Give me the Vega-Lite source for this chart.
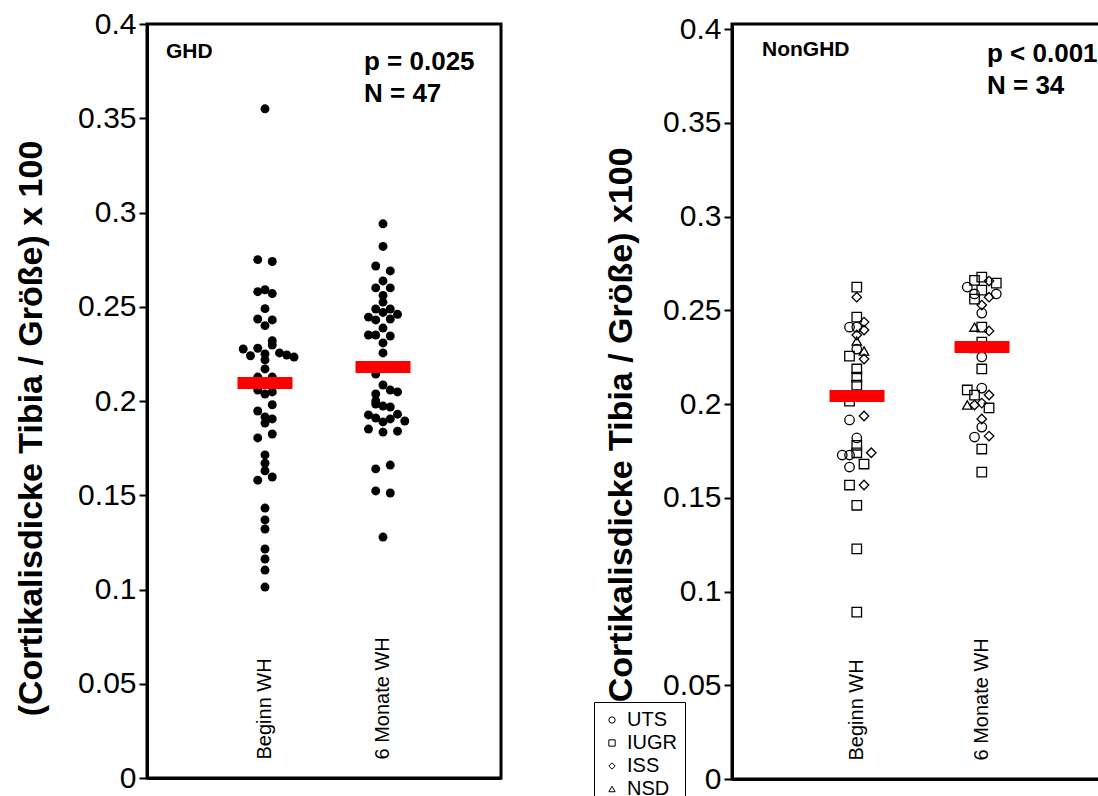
{
  "$schema": "https://vega.github.io/schema/vega-lite/v6.json",
  "background": "white",
  "padding": {"left": 12, "top": 7, "right": 0, "bottom": 0},
  "bounds": "flush",
  "spacing": 231,
  "config": {
    "font": "Liberation Sans",
    "view": {"stroke": "black", "strokeWidth": 3},
    "axis": {"labelFont": "Liberation Sans", "titleFont": "Liberation Sans", "labelColor": "black", "titleColor": "black", "domainColor": "black", "tickColor": "black", "grid": false},
    "axisY": {"labelFontSize": 30, "titleFontSize": 34, "titleFontWeight": "bold", "tickSize": 8, "tickWidth": 2, "domainWidth": 3, "labelPadding": 3, "titlePadding": 26, "format": ".2~f"},
    "axisX": {"ticks": false, "tickSize": 0, "labelAngle": -90, "labelAlign": "left", "labelBaseline": "middle", "labelPadding": -19, "labelFontSize": 20, "domainWidth": 3, "title": null}
  },
  "datasets": {
    "ghd": [
      {"t": "Beginn WH", "v": 0.355, "s": 0}, {"t": "Beginn WH", "v": 0.275, "s": -1}, {"t": "Beginn WH", "v": 0.274, "s": 1},
      {"t": "Beginn WH", "v": 0.258, "s": -1}, {"t": "Beginn WH", "v": 0.259, "s": 0}, {"t": "Beginn WH", "v": 0.257, "s": 1},
      {"t": "Beginn WH", "v": 0.249, "s": 0}, {"t": "Beginn WH", "v": 0.2435, "s": -1}, {"t": "Beginn WH", "v": 0.243, "s": 1},
      {"t": "Beginn WH", "v": 0.240, "s": 0}, {"t": "Beginn WH", "v": 0.232, "s": 1}, {"t": "Beginn WH", "v": 0.2276, "s": -3},
      {"t": "Beginn WH", "v": 0.228, "s": -1}, {"t": "Beginn WH", "v": 0.2297, "s": 1}, {"t": "Beginn WH", "v": 0.224, "s": -2},
      {"t": "Beginn WH", "v": 0.225, "s": 0}, {"t": "Beginn WH", "v": 0.2255, "s": 2}, {"t": "Beginn WH", "v": 0.2244, "s": 3},
      {"t": "Beginn WH", "v": 0.2233, "s": 4}, {"t": "Beginn WH", "v": 0.2218, "s": 0}, {"t": "Beginn WH", "v": 0.217, "s": 0},
      {"t": "Beginn WH", "v": 0.2127, "s": -1}, {"t": "Beginn WH", "v": 0.2127, "s": 1}, {"t": "Beginn WH", "v": 0.209, "s": -1},
      {"t": "Beginn WH", "v": 0.209, "s": 1}, {"t": "Beginn WH", "v": 0.2058, "s": -1}, {"t": "Beginn WH", "v": 0.2037, "s": 0},
      {"t": "Beginn WH", "v": 0.2048, "s": 1}, {"t": "Beginn WH", "v": 0.198, "s": 1}, {"t": "Beginn WH", "v": 0.1947, "s": -1},
      {"t": "Beginn WH", "v": 0.1915, "s": 0}, {"t": "Beginn WH", "v": 0.1905, "s": 1}, {"t": "Beginn WH", "v": 0.1883, "s": 0},
      {"t": "Beginn WH", "v": 0.1825, "s": 1}, {"t": "Beginn WH", "v": 0.1804, "s": -1}, {"t": "Beginn WH", "v": 0.1714, "s": 0},
      {"t": "Beginn WH", "v": 0.167, "s": 0}, {"t": "Beginn WH", "v": 0.163, "s": 0}, {"t": "Beginn WH", "v": 0.1597, "s": 1},
      {"t": "Beginn WH", "v": 0.158, "s": -1}, {"t": "Beginn WH", "v": 0.1432, "s": 0}, {"t": "Beginn WH", "v": 0.1369, "s": 0},
      {"t": "Beginn WH", "v": 0.1321, "s": 0}, {"t": "Beginn WH", "v": 0.1215, "s": 0}, {"t": "Beginn WH", "v": 0.1162, "s": 0},
      {"t": "Beginn WH", "v": 0.1103, "s": 0}, {"t": "Beginn WH", "v": 0.1013, "s": 0},
      {"t": "6 Monate WH", "v": 0.294, "s": 0}, {"t": "6 Monate WH", "v": 0.282, "s": 0}, {"t": "6 Monate WH", "v": 0.2716, "s": -1},
      {"t": "6 Monate WH", "v": 0.269, "s": 1}, {"t": "6 Monate WH", "v": 0.2637, "s": 0}, {"t": "6 Monate WH", "v": 0.26, "s": -1},
      {"t": "6 Monate WH", "v": 0.26, "s": 1}, {"t": "6 Monate WH", "v": 0.256, "s": 0}, {"t": "6 Monate WH", "v": 0.2525, "s": 0},
      {"t": "6 Monate WH", "v": 0.2488, "s": -1}, {"t": "6 Monate WH", "v": 0.2488, "s": 1}, {"t": "6 Monate WH", "v": 0.247, "s": 0},
      {"t": "6 Monate WH", "v": 0.246, "s": 2}, {"t": "6 Monate WH", "v": 0.2445, "s": -2}, {"t": "6 Monate WH", "v": 0.243, "s": -1},
      {"t": "6 Monate WH", "v": 0.2435, "s": 1}, {"t": "6 Monate WH", "v": 0.2387, "s": 0}, {"t": "6 Monate WH", "v": 0.235, "s": -2},
      {"t": "6 Monate WH", "v": 0.235, "s": -1}, {"t": "6 Monate WH", "v": 0.2345, "s": 1}, {"t": "6 Monate WH", "v": 0.2308, "s": 0},
      {"t": "6 Monate WH", "v": 0.2255, "s": 0}, {"t": "6 Monate WH", "v": 0.218, "s": -1}, {"t": "6 Monate WH", "v": 0.218, "s": 1},
      {"t": "6 Monate WH", "v": 0.2143, "s": -1}, {"t": "6 Monate WH", "v": 0.2085, "s": 0}, {"t": "6 Monate WH", "v": 0.2058, "s": 1},
      {"t": "6 Monate WH", "v": 0.2048, "s": 2}, {"t": "6 Monate WH", "v": 0.2037, "s": -1}, {"t": "6 Monate WH", "v": 0.2, "s": -1},
      {"t": "6 Monate WH", "v": 0.1984, "s": -1}, {"t": "6 Monate WH", "v": 0.1973, "s": 0}, {"t": "6 Monate WH", "v": 0.1968, "s": 1},
      {"t": "6 Monate WH", "v": 0.1926, "s": -2}, {"t": "6 Monate WH", "v": 0.193, "s": 2}, {"t": "6 Monate WH", "v": 0.191, "s": -1},
      {"t": "6 Monate WH", "v": 0.1889, "s": 0}, {"t": "6 Monate WH", "v": 0.1905, "s": 1}, {"t": "6 Monate WH", "v": 0.1894, "s": 3},
      {"t": "6 Monate WH", "v": 0.1851, "s": -2}, {"t": "6 Monate WH", "v": 0.1835, "s": 0}, {"t": "6 Monate WH", "v": 0.184, "s": 2},
      {"t": "6 Monate WH", "v": 0.164, "s": -1}, {"t": "6 Monate WH", "v": 0.166, "s": 1}, {"t": "6 Monate WH", "v": 0.1523, "s": -1},
      {"t": "6 Monate WH", "v": 0.1512, "s": 1}, {"t": "6 Monate WH", "v": 0.1278, "s": 0}
    ],
    "ghd_mean": [{"t": "Beginn WH", "v": 0.2095}, {"t": "6 Monate WH", "v": 0.218}],
    "nonghd": [
      {"t": "Beginn WH", "g": "IUGR", "v": 0.2624, "s": 0}, {"t": "Beginn WH", "g": "ISS", "v": 0.257, "s": 0},
      {"t": "Beginn WH", "g": "IUGR", "v": 0.2464, "s": 0}, {"t": "Beginn WH", "g": "ISS", "v": 0.2437, "s": 1},
      {"t": "Beginn WH", "g": "UTS", "v": 0.241, "s": -1}, {"t": "Beginn WH", "g": "UTS", "v": 0.241, "s": 0},
      {"t": "Beginn WH", "g": "ISS", "v": 0.2395, "s": 1}, {"t": "Beginn WH", "g": "ISS", "v": 0.2368, "s": 0},
      {"t": "Beginn WH", "g": "NSD", "v": 0.2336, "s": 0}, {"t": "Beginn WH", "g": "UTS", "v": 0.2293, "s": 0},
      {"t": "Beginn WH", "g": "NSD", "v": 0.2283, "s": 1}, {"t": "Beginn WH", "g": "IUGR", "v": 0.2256, "s": -1},
      {"t": "Beginn WH", "g": "ISS", "v": 0.224, "s": 1}, {"t": "Beginn WH", "g": "IUGR", "v": 0.2187, "s": 0},
      {"t": "Beginn WH", "g": "IUGR", "v": 0.2144, "s": 0}, {"t": "Beginn WH", "g": "IUGR", "v": 0.2101, "s": 0},
      {"t": "Beginn WH", "g": "IUGR", "v": 0.2016, "s": -1}, {"t": "Beginn WH", "g": "ISS", "v": 0.205, "s": 0},
      {"t": "Beginn WH", "g": "IUGR", "v": 0.2043, "s": 1}, {"t": "Beginn WH", "g": "ISS", "v": 0.1936, "s": 1},
      {"t": "Beginn WH", "g": "UTS", "v": 0.1915, "s": -1}, {"t": "Beginn WH", "g": "UTS", "v": 0.1819, "s": 0},
      {"t": "Beginn WH", "g": "IUGR", "v": 0.178, "s": 0}, {"t": "Beginn WH", "g": "IUGR", "v": 0.174, "s": 0},
      {"t": "Beginn WH", "g": "UTS", "v": 0.1728, "s": -2}, {"t": "Beginn WH", "g": "UTS", "v": 0.1728, "s": -1},
      {"t": "Beginn WH", "g": "ISS", "v": 0.174, "s": 2}, {"t": "Beginn WH", "g": "IUGR", "v": 0.168, "s": 1},
      {"t": "Beginn WH", "g": "UTS", "v": 0.1664, "s": -1}, {"t": "Beginn WH", "g": "IUGR", "v": 0.1568, "s": -1},
      {"t": "Beginn WH", "g": "ISS", "v": 0.1568, "s": 1}, {"t": "Beginn WH", "g": "IUGR", "v": 0.146, "s": 0},
      {"t": "Beginn WH", "g": "IUGR", "v": 0.1227, "s": 0}, {"t": "Beginn WH", "g": "IUGR", "v": 0.089, "s": 0},
      {"t": "6 Monate WH", "g": "IUGR", "v": 0.266, "s": -1}, {"t": "6 Monate WH", "g": "IUGR", "v": 0.2677, "s": 0},
      {"t": "6 Monate WH", "g": "ISS", "v": 0.2656, "s": 1}, {"t": "6 Monate WH", "g": "IUGR", "v": 0.2645, "s": 2},
      {"t": "6 Monate WH", "g": "UTS", "v": 0.2624, "s": -2}, {"t": "6 Monate WH", "g": "IUGR", "v": 0.2608, "s": 0},
      {"t": "6 Monate WH", "g": "UTS", "v": 0.2587, "s": -1}, {"t": "6 Monate WH", "g": "IUGR", "v": 0.256, "s": -1},
      {"t": "6 Monate WH", "g": "ISS", "v": 0.257, "s": 1}, {"t": "6 Monate WH", "g": "UTS", "v": 0.2587, "s": 2},
      {"t": "6 Monate WH", "g": "ISS", "v": 0.2528, "s": 0}, {"t": "6 Monate WH", "g": "UTS", "v": 0.2485, "s": 0},
      {"t": "6 Monate WH", "g": "NSD", "v": 0.241, "s": -1}, {"t": "6 Monate WH", "g": "IUGR", "v": 0.241, "s": 0},
      {"t": "6 Monate WH", "g": "ISS", "v": 0.239, "s": 1}, {"t": "6 Monate WH", "g": "IUGR", "v": 0.233, "s": 0},
      {"t": "6 Monate WH", "g": "IUGR", "v": 0.230, "s": -1}, {"t": "6 Monate WH", "g": "UTS", "v": 0.230, "s": 1},
      {"t": "6 Monate WH", "g": "UTS", "v": 0.2251, "s": 0}, {"t": "6 Monate WH", "g": "IUGR", "v": 0.2187, "s": 0},
      {"t": "6 Monate WH", "g": "IUGR", "v": 0.2075, "s": -2}, {"t": "6 Monate WH", "g": "UTS", "v": 0.2085, "s": 0},
      {"t": "6 Monate WH", "g": "IUGR", "v": 0.2048, "s": -1}, {"t": "6 Monate WH", "g": "ISS", "v": 0.2048, "s": 1},
      {"t": "6 Monate WH", "g": "NSD", "v": 0.1995, "s": -2}, {"t": "6 Monate WH", "g": "ISS", "v": 0.1995, "s": -1},
      {"t": "6 Monate WH", "g": "ISS", "v": 0.2005, "s": 0}, {"t": "6 Monate WH", "g": "IUGR", "v": 0.1979, "s": 1},
      {"t": "6 Monate WH", "g": "ISS", "v": 0.192, "s": 0}, {"t": "6 Monate WH", "g": "UTS", "v": 0.1877, "s": 0},
      {"t": "6 Monate WH", "g": "UTS", "v": 0.1824, "s": -1}, {"t": "6 Monate WH", "g": "ISS", "v": 0.1829, "s": 1},
      {"t": "6 Monate WH", "g": "IUGR", "v": 0.176, "s": 0}, {"t": "6 Monate WH", "g": "IUGR", "v": 0.1637, "s": 0}
    ],
    "nonghd_mean": [{"t": "Beginn WH", "v": 0.2043}, {"t": "6 Monate WH", "v": 0.2304}]
  },
  "hconcat": [
    {
      "width": 354,
      "height": 754,
      "layer": [
        {
          "data": {"name": "ghd"},
          "mark": {"type": "circle", "size": 80, "color": "black", "opacity": 1},
          "encoding": {
            "x": {"field": "t", "type": "nominal", "sort": ["Beginn WH", "6 Monate WH"], "scale": {"domain": ["Beginn WH", "6 Monate WH"], "paddingInner": 0.508, "paddingOuter": 0.754}},
            "xOffset": {"field": "s", "type": "ordinal", "scale": {"domain": [-4, -3, -2, -1, 0, 1, 2, 3, 4], "paddingInner": 0, "paddingOuter": 0}},
            "y": {"field": "v", "type": "quantitative", "scale": {"domain": [0, 0.4], "nice": false}, "axis": {"title": "(Cortikalisdicke Tibia / Größe) x 100", "values": [0, 0.05, 0.1, 0.15, 0.2, 0.25, 0.3, 0.35, 0.4], "titleX": -99, "titleY": 404, "titleAlign": "center", "titleBaseline": "bottom", "titleAngle": 270}}
          }
        },
        {
          "data": {"name": "ghd_mean"},
          "mark": {"type": "tick", "color": "#ff0000", "size": 55, "thickness": 12, "opacity": 1},
          "encoding": {
            "x": {"field": "t", "type": "nominal"},
            "y": {"field": "v", "type": "quantitative"}
          }
        },
        {
          "data": {"values": [{"label": "GHD"}]},
          "mark": {"type": "text", "fontSize": 21, "fontWeight": "bold", "align": "left", "baseline": "middle", "dx": -99, "color": "black"},
          "encoding": {"x": {"datum": "Beginn WH"}, "y": {"datum": 0.3851}, "text": {"field": "label"}}
        },
        {
          "data": {"values": [{"label": "p = 0.025", "v": 0.3798}, {"label": "N = 47", "v": 0.3629}]},
          "mark": {"type": "text", "fontSize": 26, "fontWeight": "bold", "align": "left", "baseline": "middle", "dx": -19, "color": "black"},
          "encoding": {"x": {"datum": "6 Monate WH"}, "y": {"field": "v", "type": "quantitative"}, "text": {"field": "label"}}
        }
      ]
    },
    {
      "width": 375,
      "height": 755,
      "layer": [
        {
          "data": {"name": "nonghd"},
          "mark": {"type": "point", "filled": false, "color": "black", "strokeWidth": 1.3, "size": 90, "opacity": 1},
          "encoding": {
            "x": {"field": "t", "type": "nominal", "sort": ["Beginn WH", "6 Monate WH"], "scale": {"domain": ["Beginn WH", "6 Monate WH"], "paddingInner": 0.532, "paddingOuter": 0.766}},
            "xOffset": {"field": "s", "type": "ordinal", "scale": {"domain": [-4, -3, -2, -1, 0, 1, 2, 3, 4], "paddingInner": 0, "paddingOuter": 0}},
            "y": {"field": "v", "type": "quantitative", "scale": {"domain": [0, 0.4027], "nice": false}, "axis": {"title": "(Cortikalisdicke Tibia / Größe) x100", "values": [0, 0.05, 0.1, 0.15, 0.2, 0.25, 0.3, 0.35, 0.4], "titleX": -94, "titleY": 406, "titleAlign": "center", "titleBaseline": "bottom", "titleAngle": 270}},
            "shape": {
              "field": "g", "type": "nominal",
              "scale": {"domain": ["UTS", "IUGR", "ISS", "NSD"], "range": ["circle", "square", "diamond", "triangle-up"]},
              "legend": {"orient": "none", "legendX": 447, "legendY": 678, "title": null, "strokeColor": "black", "fillColor": "white", "padding": 8, "labelFont": "Liberation Sans", "labelFontSize": 20, "labelColor": "black", "symbolSize": 40, "symbolStrokeWidth": 1, "symbolStrokeColor": "black", "symbolFillColor": "transparent", "rowPadding": 3, "labelOffset": 5}
            }
          }
        },
        {
          "data": {"name": "nonghd_mean"},
          "mark": {"type": "tick", "color": "#ff0000", "size": 55, "thickness": 12, "opacity": 1},
          "encoding": {
            "x": {"field": "t", "type": "nominal"},
            "y": {"field": "v", "type": "quantitative"}
          }
        },
        {
          "data": {"values": [{"label": "NonGHD"}]},
          "mark": {"type": "text", "fontSize": 21, "fontWeight": "bold", "align": "left", "baseline": "middle", "dx": -95, "color": "black"},
          "encoding": {"x": {"datum": "Beginn WH"}, "y": {"datum": 0.3888}, "text": {"field": "label"}}
        },
        {
          "data": {"values": [{"label": "p < 0.001", "v": 0.3867}, {"label": "N = 34", "v": 0.3696}]},
          "mark": {"type": "text", "fontSize": 26, "fontWeight": "bold", "align": "left", "baseline": "middle", "dx": 5, "color": "black"},
          "encoding": {"x": {"datum": "6 Monate WH"}, "y": {"field": "v", "type": "quantitative"}, "text": {"field": "label"}}
        }
      ]
    }
  ]
}
